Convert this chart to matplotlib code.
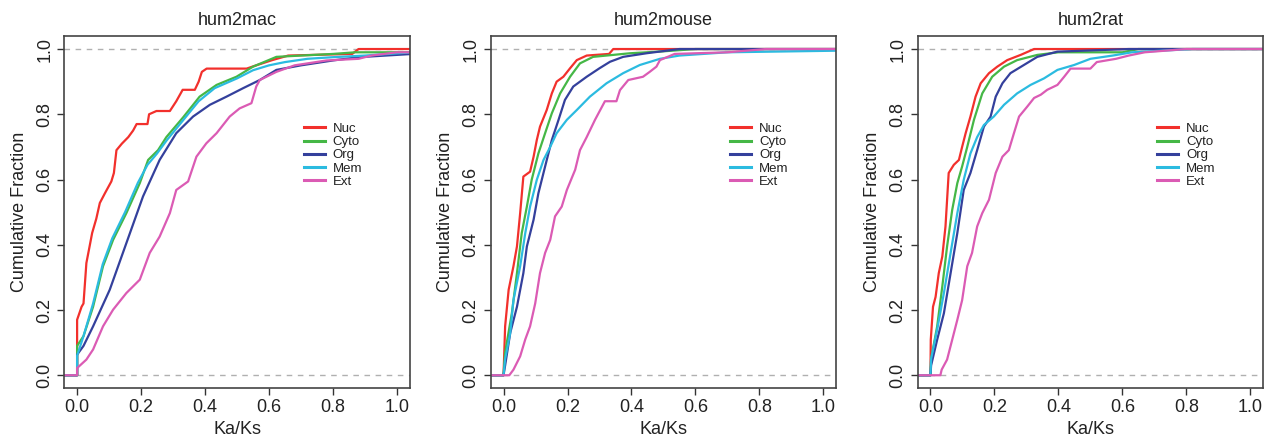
import matplotlib
matplotlib.use("Agg")
import matplotlib.pyplot as plt

# ---------------- data ----------------
panel_titles = ["hum2mac", "hum2mouse", "hum2rat"]
series_labels = ["Nuc", "Cyto", "Org", "Mem", "Ext"]
series_colors = ["#F2302C", "#45B746", "#34409C", "#2BBBE0", "#DB5BB4"]
x_ticks = [0.0, 0.2, 0.4, 0.6, 0.8, 1.0]
y_ticks = [0.0, 0.2, 0.4, 0.6, 0.8, 1.0]

# hum2mac
mac_nuc_x = [-0.05, 0.0, 0.0, 0.014, 0.02, 0.029, 0.04, 0.047, 0.06, 0.071, 0.087, 0.107, 0.115, 0.123, 0.14, 0.16, 0.175, 0.186, 0.22, 0.225, 0.248, 0.29, 0.31, 0.33, 0.368, 0.38, 0.39, 0.405, 0.53, 0.56, 0.61, 0.66, 0.86, 0.88, 1.05]
mac_nuc_y = [0.0, 0.0, 0.17, 0.21, 0.22, 0.344, 0.40, 0.436, 0.48, 0.528, 0.558, 0.594, 0.62, 0.69, 0.71, 0.73, 0.75, 0.77, 0.77, 0.80, 0.81, 0.81, 0.84, 0.875, 0.875, 0.90, 0.93, 0.94, 0.94, 0.95, 0.966, 0.98, 0.985, 1.0, 1.0]
mac_cyto_x = [-0.05, 0.0, 0.0, 0.02, 0.05, 0.081, 0.1125, 0.154, 0.196, 0.222, 0.253, 0.279, 0.331, 0.383, 0.436, 0.498, 0.55, 0.623, 0.70, 0.80, 0.87, 1.05]
mac_cyto_y = [0.0, 0.0, 0.09, 0.12, 0.21, 0.334, 0.415, 0.497, 0.589, 0.66, 0.69, 0.73, 0.79, 0.854, 0.89, 0.915, 0.946, 0.976, 0.98, 0.985, 0.99, 0.99]
mac_org_x = [-0.05, 0.0, 0.0, 0.02, 0.05, 0.102, 0.154, 0.206, 0.258, 0.31, 0.3625, 0.415, 0.467, 0.519, 0.571, 0.623, 0.70, 0.80, 0.88, 1.05]
mac_org_y = [0.0, 0.0, 0.063, 0.09, 0.15, 0.262, 0.405, 0.548, 0.66, 0.742, 0.793, 0.829, 0.854, 0.88, 0.905, 0.936, 0.95, 0.965, 0.975, 0.985]
mac_mem_x = [-0.05, 0.0, 0.0, 0.02, 0.05, 0.08, 0.11, 0.15, 0.19, 0.22, 0.25, 0.28, 0.33, 0.38, 0.43, 0.50, 0.55, 0.60, 0.65, 0.72, 0.80, 0.90, 1.05]
mac_mem_y = [0.0, 0.0, 0.06, 0.12, 0.22, 0.34, 0.42, 0.50, 0.59, 0.645, 0.68, 0.72, 0.78, 0.84, 0.88, 0.91, 0.935, 0.95, 0.96, 0.97, 0.975, 0.98, 0.99]
mac_ext_x = [-0.05, 0.0, 0.0, 0.029, 0.05, 0.081, 0.1125, 0.154, 0.196, 0.227, 0.258, 0.29, 0.31, 0.347, 0.373, 0.404, 0.436, 0.477, 0.508, 0.545, 0.56, 0.571, 0.623, 0.68, 0.78, 0.88, 0.92, 1.0, 1.05]
mac_ext_y = [0.0, 0.0, 0.022, 0.048, 0.079, 0.15, 0.201, 0.252, 0.293, 0.375, 0.425, 0.497, 0.568, 0.594, 0.67, 0.711, 0.742, 0.793, 0.818, 0.834, 0.885, 0.905, 0.93, 0.95, 0.965, 0.97, 0.98, 0.99, 0.99]

# hum2mouse
mouse_nuc_x = [-0.05, 0.0, 0.005, 0.016, 0.031, 0.042, 0.052, 0.062, 0.083, 0.094, 0.104, 0.114, 0.135, 0.151, 0.166, 0.187, 0.208, 0.229, 0.26, 0.33, 0.343, 1.05]
mouse_nuc_y = [0.0, 0.0, 0.15, 0.262, 0.334, 0.395, 0.497, 0.609, 0.624, 0.67, 0.721, 0.762, 0.813, 0.864, 0.90, 0.915, 0.941, 0.966, 0.98, 0.985, 1.0, 1.0]
mouse_cyto_x = [-0.05, 0.0, 0.005, 0.026, 0.042, 0.057, 0.073, 0.088, 0.109, 0.13, 0.151, 0.177, 0.208, 0.239, 0.28, 0.395, 0.50, 0.60, 1.05]
mouse_cyto_y = [0.0, 0.0, 0.07, 0.19, 0.313, 0.436, 0.517, 0.599, 0.68, 0.742, 0.803, 0.864, 0.915, 0.956, 0.976, 0.987, 0.993, 1.0, 1.0]
mouse_org_x = [-0.05, 0.0, 0.005, 0.021, 0.042, 0.062, 0.073, 0.094, 0.109, 0.13, 0.151, 0.172, 0.192, 0.218, 0.26, 0.30, 0.333, 0.374, 0.447, 0.55, 1.05]
mouse_org_y = [0.0, 0.0, 0.03, 0.13, 0.21, 0.313, 0.395, 0.477, 0.558, 0.64, 0.721, 0.783, 0.844, 0.885, 0.915, 0.941, 0.961, 0.976, 0.987, 1.0, 1.0]
mouse_mem_x = [-0.05, 0.0, 0.005, 0.021, 0.031, 0.052, 0.068, 0.083, 0.104, 0.125, 0.146, 0.166, 0.198, 0.229, 0.27, 0.322, 0.374, 0.426, 0.489, 0.55, 0.70, 1.05]
mouse_mem_y = [0.0, 0.0, 0.05, 0.13, 0.23, 0.334, 0.436, 0.517, 0.599, 0.66, 0.70, 0.742, 0.783, 0.813, 0.854, 0.895, 0.926, 0.951, 0.97, 0.98, 0.99, 0.995]
mouse_ext_x = [-0.05, 0.0, 0.018, 0.031, 0.052, 0.068, 0.083, 0.099, 0.114, 0.13, 0.146, 0.161, 0.182, 0.198, 0.224, 0.239, 0.26, 0.286, 0.317, 0.353, 0.364, 0.39, 0.436, 0.457, 0.478, 0.489, 0.535, 0.70, 0.82, 1.05]
mouse_ext_y = [0.0, 0.0, 0.0, 0.017, 0.058, 0.11, 0.15, 0.22, 0.313, 0.375, 0.415, 0.487, 0.517, 0.568, 0.63, 0.69, 0.73, 0.783, 0.84, 0.84, 0.874, 0.905, 0.915, 0.93, 0.946, 0.966, 0.985, 0.99, 1.0, 1.0]

# hum2rat
rat_nuc_x = [-0.05, 0.0, 0.001, 0.008, 0.016, 0.026, 0.037, 0.047, 0.057, 0.073, 0.089, 0.099, 0.11, 0.125, 0.141, 0.157, 0.183, 0.209, 0.24, 0.282, 0.324, 1.05]
rat_nuc_y = [0.0, 0.0, 0.109, 0.21, 0.24, 0.313, 0.364, 0.456, 0.62, 0.645, 0.66, 0.70, 0.742, 0.793, 0.854, 0.895, 0.926, 0.946, 0.966, 0.982, 1.0, 1.0]
rat_cyto_x = [-0.05, 0.0, 0.002, 0.021, 0.037, 0.052, 0.068, 0.084, 0.099, 0.115, 0.136, 0.162, 0.193, 0.23, 0.271, 0.334, 0.40, 0.60, 0.65, 1.05]
rat_cyto_y = [0.0, 0.0, 0.05, 0.15, 0.272, 0.395, 0.507, 0.589, 0.64, 0.70, 0.783, 0.864, 0.915, 0.946, 0.966, 0.982, 0.99, 0.99, 1.0, 1.0]
rat_org_x = [-0.05, 0.0, 0.002, 0.021, 0.042, 0.063, 0.084, 0.104, 0.125, 0.146, 0.167, 0.188, 0.204, 0.225, 0.25, 0.292, 0.334, 0.397, 0.62, 1.05]
rat_org_y = [0.0, 0.0, 0.03, 0.109, 0.19, 0.313, 0.436, 0.568, 0.62, 0.69, 0.762, 0.793, 0.854, 0.895, 0.926, 0.951, 0.976, 0.992, 1.0, 1.0]
rat_mem_x = [-0.05, 0.0, 0.002, 0.021, 0.042, 0.063, 0.084, 0.104, 0.125, 0.146, 0.167, 0.198, 0.23, 0.271, 0.313, 0.355, 0.397, 0.449, 0.50, 0.57, 0.63, 0.82, 1.05]
rat_mem_y = [0.0, 0.0, 0.05, 0.14, 0.252, 0.375, 0.497, 0.599, 0.68, 0.73, 0.767, 0.793, 0.829, 0.864, 0.89, 0.91, 0.936, 0.951, 0.97, 0.98, 0.99, 1.0, 1.0]
rat_ext_x = [-0.05, 0.0, 0.031, 0.035, 0.052, 0.068, 0.084, 0.099, 0.115, 0.13, 0.146, 0.162, 0.183, 0.204, 0.225, 0.245, 0.261, 0.277, 0.303, 0.324, 0.345, 0.365, 0.397, 0.418, 0.438, 0.50, 0.52, 0.58, 0.62, 0.67, 0.80, 1.05]
rat_ext_y = [0.0, 0.0, 0.0, 0.017, 0.048, 0.109, 0.17, 0.23, 0.334, 0.375, 0.456, 0.497, 0.538, 0.62, 0.67, 0.69, 0.742, 0.793, 0.824, 0.85, 0.86, 0.875, 0.89, 0.915, 0.94, 0.94, 0.96, 0.97, 0.98, 0.99, 1.0, 1.0]

panels = [
    [(mac_nuc_x, mac_nuc_y), (mac_cyto_x, mac_cyto_y), (mac_org_x, mac_org_y),
     (mac_mem_x, mac_mem_y), (mac_ext_x, mac_ext_y)],
    [(mouse_nuc_x, mouse_nuc_y), (mouse_cyto_x, mouse_cyto_y), (mouse_org_x, mouse_org_y),
     (mouse_mem_x, mouse_mem_y), (mouse_ext_x, mouse_ext_y)],
    [(rat_nuc_x, rat_nuc_y), (rat_cyto_x, rat_cyto_y), (rat_org_x, rat_org_y),
     (rat_mem_x, rat_mem_y), (rat_ext_x, rat_ext_y)],
]

# ---------------- drawing ----------------
plt.rcParams["font.family"] = ["Liberation Sans", "DejaVu Sans"]
text_color = "#222222"

fig = plt.figure(figsize=(12.71, 4.42), dpi=100)
lefts = [0.0506, 0.3861, 0.7220]
width = 0.2718
bottom = 0.1215
height = 0.7971

for i, (title, series) in enumerate(zip(panel_titles, panels)):
    ax = fig.add_axes([lefts[i], bottom, width, height])
    ax.axhline(0.0, color="#b0b0b0", lw=1.0, ls=(0, (4, 4)), zorder=1)
    ax.axhline(1.0, color="#b0b0b0", lw=1.0, ls=(0, (4, 4)), zorder=1)
    for (xs, ys), lab, col in zip(series, series_labels, series_colors):
        ax.plot(xs, ys, color=col, lw=1.6, label=lab, zorder=2)
    ax.set_xlim(-0.04, 1.04)
    ax.set_ylim(-0.04, 1.04)
    ax.set_xticks(x_ticks)
    ax.set_yticks(y_ticks)
    ax.set_xticklabels([f"{v:.1f}" for v in x_ticks])
    ax.set_yticklabels([f"{v:.1f}" for v in y_ticks], rotation=90, va="center")
    ax.tick_params(axis="both", direction="out", length=5, width=1,
                   labelsize=13, colors="#333333", labelcolor=text_color, pad=3)
    for sp in ax.spines.values():
        sp.set_color("#444444")
        sp.set_linewidth(1.2)
    ax.set_title(title, fontsize=13, color=text_color, pad=8)
    ax.set_xlabel("Ka/Ks", fontsize=13, color=text_color, labelpad=3)
    ax.set_ylabel("Cumulative Fraction", fontsize=13, color=text_color, labelpad=6)
    leg = ax.legend(loc="upper left", bbox_to_anchor=(0.693, 0.754), frameon=False,
                    fontsize=9.5, handlelength=1.6, handletextpad=0.6,
                    labelspacing=0.08, borderpad=0.0, borderaxespad=0.0)
    for line in leg.get_lines():
        line.set_linewidth(2.2)
    for t in leg.get_texts():
        t.set_color(text_color)

fig.savefig("out.png", dpi=100)
